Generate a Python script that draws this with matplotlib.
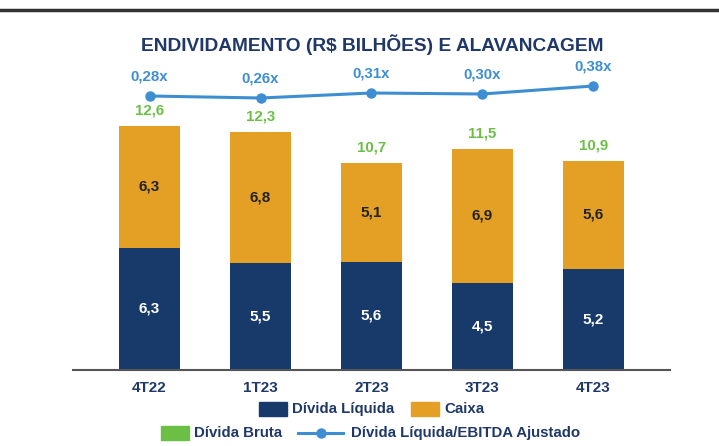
import matplotlib
matplotlib.use("Agg")
import matplotlib.pyplot as plt
from matplotlib.patches import Rectangle
from matplotlib.lines import Line2D

categories = ["4T22", "1T23", "2T23", "3T23", "4T23"]
divida_liquida = [6.3, 5.5, 5.6, 4.5, 5.2]
caixa = [6.3, 6.8, 5.1, 6.9, 5.6]
divida_bruta = [12.6, 12.3, 10.7, 11.5, 10.9]
alavancagem = [0.28, 0.26, 0.31, 0.30, 0.38]

NAVY = "#183A6B"
ORANGE = "#E3A024"
GREEN = "#6CBF45"
BLUE = "#3E8ED2"
TEXT = "#1F3868"

plt.rcParams['font.family'] = ['Liberation Sans', 'DejaVu Sans']

W, H = 719, 446
fig = plt.figure(figsize=(W / 100, H / 100), dpi=100)

def px_axes(x0, y_top, x1, y_bot):
    return [x0 / W, 1 - y_bot / H, (x1 - x0) / W, (y_bot - y_top) / H]

def fx(px):
    return px / W

def fy(py):
    return 1 - py / H

# top rule
fig.add_artist(Line2D([0, 1], [fy(10), fy(10)], color="#333333", lw=2.5,
                      transform=fig.transFigure))

fig.text(fx(372), fy(45), "ENDIVIDAMENTO (R$ BILHÕES) E ALAVANCAGEM",
         ha="center", va="center", fontsize=13.8, fontweight="bold", color=TEXT)

ax = fig.add_axes(px_axes(73, 60, 670, 370))
x = list(range(len(categories)))
w = 0.55
ax.bar(x, divida_liquida, width=w, color=NAVY, zorder=2)
ax.bar(x, caixa, width=w, bottom=divida_liquida, color=ORANGE, zorder=2)

for i in x:
    ax.text(i, divida_liquida[i] / 2, f"{divida_liquida[i]:.1f}".replace(".", ","),
            ha="center", va="center", color="white", fontsize=11, fontweight="bold")
    ax.text(i, divida_liquida[i] + caixa[i] / 2, f"{caixa[i]:.1f}".replace(".", ","),
            ha="center", va="center", color="#222222", fontsize=11, fontweight="bold")
    top = divida_liquida[i] + caixa[i]
    ax.annotate(f"{divida_bruta[i]:.1f}".replace(".", ","), (i, top),
                xytext=(0, 6), textcoords="offset points", ha="center", va="bottom",
                color=GREEN, fontsize=10.8, fontweight="bold")

ax.set_xlim(-0.69, 4.69)
ax.set_ylim(0, 16.0)
ax.set_yticks([])
ax.set_xticks(x)
ax.set_xticklabels(categories, fontsize=11, fontweight="bold", color=TEXT)
ax.tick_params(axis="x", length=0, pad=8)
for s in ["top", "right", "left"]:
    ax.spines[s].set_visible(False)
ax.spines["bottom"].set_color("#555555")
ax.spines["bottom"].set_linewidth(1.5)
ax.patch.set_alpha(0)

ax2 = ax.twinx()
ax2.plot(x, alavancagem, color=BLUE, lw=2.2, marker="o", markersize=6.5, zorder=3)
for i in x:
    ax2.annotate(f"{alavancagem[i]:.2f}x".replace(".", ","), (i, alavancagem[i]),
                 xytext=(0, 9), textcoords="offset points", ha="center", va="bottom",
                 color=BLUE, fontsize=10.8, fontweight="bold")
ax2.set_ylim(-2.46, 0.64)
ax2.set_yticks([])
for s in ax2.spines.values():
    s.set_visible(False)

# manual legend
leg_font = dict(fontsize=10.8, fontweight="bold", color=TEXT, va="center", ha="left")

def patch_entry(x0, yc, color, label):
    fig.add_artist(Rectangle((fx(x0), fy(yc + 7)), 28 / W, 14 / H, color=color,
                             transform=fig.transFigure))
    fig.text(fx(x0 + 33), fy(yc), label, **leg_font)

patch_entry(259, 409, NAVY, "Dívida Líquida")
patch_entry(411, 409, ORANGE, "Caixa")
patch_entry(161, 433, GREEN, "Dívida Bruta")
fig.add_artist(Line2D([fx(298), fx(343)], [fy(433), fy(433)], color=BLUE, lw=2.2,
                      transform=fig.transFigure))
fig.add_artist(Line2D([fx(321)], [fy(433)], color=BLUE, marker="o", markersize=6.5,
                      transform=fig.transFigure))
fig.text(fx(351), fy(433), "Dívida Líquida/EBITDA Ajustado", **leg_font)

fig.savefig("out.png", dpi=100)
